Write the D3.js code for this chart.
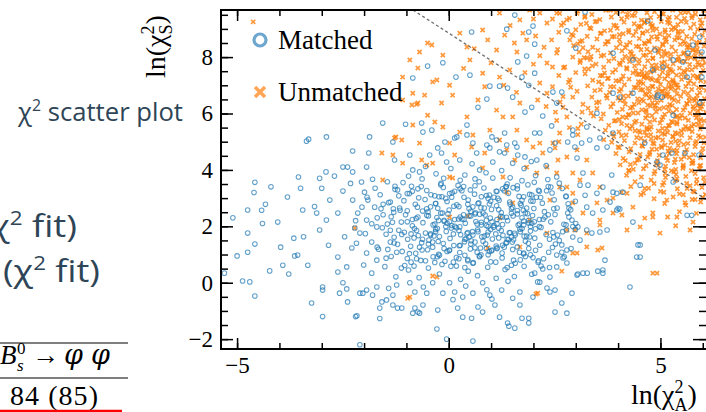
<!DOCTYPE html>
<html lang="en">
<head>
<meta charset="UTF-8">
<title>chi2 scatter plot</title>
<script src="https://d3js.org/d3.v7.min.js"></script>
<style>
  body { margin: 0; background: #fff; }
  svg { display: block; }
  .slide { font-family: "Open Sans", sans-serif; fill: #2e4557; }
  .serif { font-family: "Liberation Serif", "Times New Roman", serif; fill: #000; }
</style>
</head>
<body>
<div id="chart"></div>
<script>
// ---- data ----
const seriesNames = ["Matched", "Unmatched"];

// ln(chi2_A), ln(chi2_S) for matched candidates
const matched = [
  [-5.1,2.3],[-5.3,0.34],[-5.0,0.95],[-4.87,0.06],[-4.75,1.76],[-4.75,2.58],[-4.58,3.56],[-4.6,3.2],[-4.58,1.37],[-4.58,-0.47],
  [-4.4,2.1],[-4.42,2.57],[-4.33,2.78],[-4.2,3.4],[-4.23,0.42],[-4.04,2.15],[-3.97,1.26],[-3.92,0.62],[-3.78,0.31],[-3.81,3.04],
  [-3.66,1.58],[-3.57,0.98],[-3.55,3.75],[-3.5,3.35],[-3.45,2.58],[-3.43,1.63],[-3.36,5.02],[-3.24,-0.72],[-3.17,2.7],[-3.12,2.47],
  [-3.05,1.87],[-3.05,3.7],[-2.98,-0.15],[-2.89,5.17],[-4.7,0.03],[-4.75,1.08],[-3.64,0.95],[-3.33,0.62],[-2.98,-1.2],[-2.2,-1.2],
  [-2.1,-2.2],[-1.63,-1.27],
  [-2.81,2.93],[-2.7,3.78],[-2.62,2.47],[-2.5,3.25],[-2.5,4.1],[-2.39,4.1],[-2.27,4.67],[-2.27,3.93],[-2.27,2.93],[-2.15,2.47],
  [-2.1,1.76],[-2.06,3.57],[-2.22,1.94],[-2.29,1.23],[-2.41,0.56],[-2.62,0.91],[-2.5,0.0],[-2.58,-0.37],[-2.39,-0.68],[-2.98,-0.26],
  [-2.62,0.38],[-2.84,1.33],[-2.89,2.22],[-3.0,3.35],[-2.9,3.93],[-1.87,5.17],[-1.89,4.6],[-1.94,4.1],[-1.8,3.67],[-1.99,3.21],
  [-1.91,2.93],[-1.75,2.68],[-1.94,2.22],[-1.7,1.98],[-1.82,1.44],[-1.94,1.05],[-1.7,0.8],[-1.82,0.34],[-1.7,-0.15],[-2.03,-0.37],
  [-1.58,-0.68],[-2.17,-1.17],[-1.56,5.66],[-3.31,5.09],
  [-1.62,3.12],[-1.55,2.41],[-1.48,1.72],[-1.66,1.19],[-1.51,0.57],[-1.45,3.58],[-1.38,2.86],[-1.33,2.14],[-1.29,1.41],[-1.36,0.93],
  [-1.25,0.21],[-1.42,-0.2],[-1.6,2.62],[-1.74,3.35],[-1.21,3.29],[-1.15,2.57],[-1.18,1.86],[-1.23,1.08],[-1.12,0.52],[-2.05,2.68],
  [-2.32,3.52],[-2.46,1.63],[-2.01,0.63],[-2.18,1.4],[-1.57,1.95],[-1.44,1.18],[-1.69,2.3],[-1.3,2.5],[-1.97,1.74],[-2.2,2.2],
  [-2.41,-0.22],[-2.1,-0.37],[-1.94,-0.26],[-1.8,-0.44],[-1.63,-0.9],[-1.47,-0.61],[-1.32,-0.44],[-1.32,-0.79],[-1.21,-0.9],[-1.11,-0.9],
  [-1.23,-0.08],[-0.92,0.0],[-0.8,-0.33],[-0.8,-0.9],[-0.73,-1.04],[-0.69,-1.08],[-0.85,-1.08],[-0.61,-0.79],[-0.52,-0.37],[-0.38,0.0],
  [-0.26,-0.97],[-0.28,-1.64],[-0.05,-2.0],[-0.14,-0.37],[0.02,0.0],[0.14,-0.33],[0.21,-0.9],[0.33,-1.22],[0.33,-0.51],[0.54,-1.26],
  [0.57,-2.07],[0.57,-0.37],[0.69,-0.86],[0.8,-1.04],[0.8,0.0],[0.97,-0.44],[1.09,-0.79],[1.2,-1.22],[1.25,-0.26],[1.39,-1.43],
  [1.42,-1.54],[1.56,-1.61],[1.51,-0.55],[1.68,-0.33],[1.68,-0.79],[1.73,-1.26],[1.89,-1.26],[1.89,-1.43],[1.99,-0.51],[2.1,0.03],
  [2.39,-0.33],[2.51,-1.04],[2.67,-0.72],[2.79,-1.08],[2.91,-0.37],[3.03,0.27],[3.17,0.34],[3.27,0.34],[3.52,0.41],[3.64,0.34],
  [4.28,-0.15],[4.44,0.91],[2.55,0.98],[2.79,0.7],
  [-0.95,0.45],[-0.7,0.18],[-0.48,0.52],[-0.22,0.31],[0.05,0.58],[0.28,0.12],[0.46,0.41],[0.68,0.25],[0.92,0.55],[1.12,0.16],
  [1.33,0.47],[1.55,0.22],[1.78,0.58],[1.96,0.3],[2.22,0.49],[-0.6,-0.15],[0.1,-0.6],[0.9,-0.25],[1.4,0.05],[-0.33,0.72],
  [0.4,-0.12],[1.02,-0.58],
  [-1.32,4.99],[-1.28,4.35],[-0.92,4.53],[-0.85,4.0],[-0.69,3.93],[-0.61,5.34],[-0.4,5.41],[-0.45,4.53],[-0.26,4.78],[-0.17,4.6],
  [-0.05,4.28],[-0.64,5.66],[0.19,5.17],[0.43,5.24],[0.26,4.35],[0.66,4.6],[0.43,5.59],[0.9,4.88],[1.13,5.06],[1.32,5.31],
  [1.37,4.88],[1.56,4.95],[1.32,4.6],[1.04,4.28],[0.73,4.0],[1.51,4.24],[1.63,4.53],[-0.09,4.99],[0.14,5.13],[0.57,4.95],
  [1.02,5.17],[0.97,4.78],[1.2,4.64],[1.61,4.81],[1.8,4.46],[2.03,5.31],[2.08,4.35],[2.39,4.71],[2.51,4.95],[2.81,4.99],
  [2.93,5.24],[2.98,4.81],[3.03,4.42],[3.33,5.06],[3.5,4.78],[3.17,3.89],[3.1,3.46],[3.29,3.46],[3.5,3.17],[3.26,2.68],
  [3.4,2.47],[3.64,2.58],[3.81,2.86],[3.97,2.58],[3.88,3.21],[4.11,3.21],[4.04,2.61],[2.91,2.22],[3.05,1.98],[3.26,1.87],
  [3.38,1.76],[3.57,1.8],[3.74,1.87],[3.1,1.51],[2.93,1.62],[3.69,0.8],[3.64,0.45],[3.05,0.31],[4.52,1.34],[4.52,0.91],
  [2.67,1.34],[2.79,1.16],[2.7,0.88],[2.55,0.56],[2.39,0.2],[2.51,-0.26],[2.32,-0.19],[2.15,0.02],[2.03,0.34],
  [-0.95,3.78],[-0.55,4.12],[-0.3,3.86],[0.05,4.05],[0.38,3.82],[0.55,4.22],[0.88,3.9],[1.25,3.98],[1.45,3.72],[1.78,4.05],
  [2.05,3.8],[2.3,4.15],[2.55,3.75],[-0.12,3.7],[0.62,3.68],[1.95,4.3],
  [1.56,9.49],[0.54,8.89],[1.37,8.99],[1.99,9.1],[1.89,8.89],[2.03,8.46],[1.84,8.04],[1.63,7.83],[2.79,8.93],[3.22,9.6],
  [3.0,8.32],[-0.5,7.68],[-0.85,7.26],[-0.14,7.8],[0.17,7.29],[0.5,7.36],[0.9,6.51],[0.69,6.22],[0.97,6.97],[1.2,6.97],
  [1.39,6.9],[1.73,7.29],[2.03,7.43],[1.89,7.0],[1.51,6.58],[1.8,6.05],[1.96,6.22],[2.46,6.76],[2.67,6.76],[2.55,6.37],
  [2.22,5.91],[2.43,5.56],[2.15,5.31],[2.93,5.41],[3.26,5.52],[3.14,4.95],[3.57,5.13],[3.74,4.81],[3.88,5.31],[3.5,6.01],
  [3.88,6.72],[4.04,6.58],[4.35,6.72],[3.88,8.14],[4.35,7.9],[4.7,9.28],[4.82,7.54],[4.92,6.58],[5.04,6.58],[5.3,7.9],
  [5.65,8.14],[5.63,7.29],[5.77,8.43],[5.98,7.29],[4.63,4.95],[4.92,4.28],[4.99,4.17],[5.3,3.57],[5.06,4.53],[4.52,3.46],
  [4.0,2.64],[4.35,2.15],[4.47,1.34],[5.63,2.39],[5.74,2.39],[3.97,3.17],[3.64,3.39],[3.85,3.82],[3.22,3.1],[5.93,8.71],
  [5.98,8.18],[4.87,8.25],[5.06,7.65],[5.53,7.83],[5.93,6.37],[5.3,5.94],[4.94,6.65],[5.58,4.6],[5.91,4.53],[5.27,4.6],
  [-1.02,5.62],
  // dense core
  [-1.08,3.55],[-0.63,3.68],[-0.18,3.52],[0.27,3.63],[0.72,3.58],[1.04,3.71],[1.38,3.5],[1.73,3.62],[2.02,3.56],[2.34,3.66],[2.61,3.53],
  [-1.27,3.31],[-0.88,3.42],[-0.52,3.27],[-0.13,3.38],[0.22,3.45],[0.51,3.29],[0.83,3.36],[1.12,3.24],[1.36,3.41],[1.62,3.33],
  [1.87,3.47],[2.12,3.28],[2.41,3.39],[2.68,3.34],
  [-1.18,3.08],[-0.93,3.16],[-0.71,3.01],[-0.42,3.12],[-0.16,3.05],[0.08,3.19],[0.36,3.03],[0.61,3.14],[0.89,3.09],[1.16,2.99],
  [1.41,3.17],[1.66,3.06],[1.91,3.13],[2.17,3.02],[2.44,3.18],[2.77,3.07],
  [-1.42,2.84],[-1.06,2.91],[-0.79,2.78],[-0.56,2.95],[-0.31,2.81],[-0.04,2.88],[0.19,2.76],[0.46,2.93],[0.71,2.83],[0.96,2.79],
  [1.19,2.92],[1.44,2.86],[1.71,2.75],[1.94,2.9],[2.21,2.82],[2.49,2.94],[2.82,2.8],
  [-1.31,2.62],[-0.98,2.55],[-0.74,2.68],[-0.49,2.51],[-0.26,2.64],[0.01,2.58],[0.24,2.7],[0.52,2.53],[0.76,2.66],[1.01,2.6],
  [1.24,2.49],[1.51,2.67],[1.76,2.57],[2.01,2.63],[2.26,2.52],[2.56,2.65],[2.88,2.59],[0.12,2.71],[0.63,2.48],[1.13,2.73],[1.62,2.56],
  [-1.36,2.34],[-1.02,2.41],[-0.77,2.28],[-0.52,2.39],[-0.28,2.31],[-0.02,2.44],[0.23,2.26],[0.48,2.37],[0.73,2.43],[0.98,2.29],
  [1.23,2.35],[1.48,2.46],[1.73,2.3],[1.98,2.38],[2.23,2.25],[2.51,2.42],[2.84,2.33],[-0.15,2.47],[0.36,2.24],[0.86,2.4],[1.36,2.32],[1.86,2.45],
  [-1.45,2.08],[-1.12,2.15],[-0.86,2.02],[-0.61,2.13],[-0.37,2.05],[-0.11,2.18],[0.14,2.0],[0.39,2.11],[0.64,2.17],[0.89,2.03],
  [1.14,2.09],[1.39,2.2],[1.64,2.04],[1.89,2.12],[2.14,1.99],[2.41,2.16],[2.72,2.07],[3.0,2.1],[-0.24,2.21],[0.26,1.98],[0.77,2.14],[1.27,2.06],[1.77,2.19],
  [-1.38,1.86],[-1.05,1.79],[-0.81,1.92],[-0.55,1.76],[-0.31,1.89],[-0.06,1.82],[0.18,1.95],[0.43,1.74],[0.68,1.88],[0.93,1.8],
  [1.18,1.93],[1.43,1.77],[1.68,1.9],[1.93,1.83],[2.18,1.96],[2.46,1.78],[2.78,1.87],[-0.43,1.73],[0.06,1.94],[0.56,1.81],[1.06,1.97],[1.56,1.75],[2.05,1.91],
  [-1.29,1.61],[-0.97,1.54],[-0.72,1.67],[-0.47,1.51],[-0.22,1.64],[0.03,1.57],[0.28,1.7],[0.53,1.49],[0.78,1.63],[1.03,1.55],
  [1.28,1.68],[1.53,1.52],[1.78,1.65],[2.03,1.58],[2.3,1.71],[2.61,1.5],[-0.35,1.66],[0.41,1.56],[0.91,1.69],[1.41,1.53],[1.91,1.62],
  [-1.21,1.36],[-0.9,1.29],[-0.64,1.42],[-0.38,1.26],[-0.13,1.39],[0.12,1.32],[0.37,1.45],[0.62,1.24],[0.87,1.38],[1.12,1.3],
  [1.37,1.43],[1.62,1.27],[1.88,1.4],[2.15,1.33],[2.45,1.25],[-0.25,1.46],[0.75,1.23],[1.5,1.44],[0.25,1.31],
  [-1.1,1.11],[-0.78,1.04],[-0.5,1.17],[-0.24,1.01],[0.01,1.14],[0.26,1.07],[0.51,1.2],[0.76,0.99],[1.01,1.13],[1.26,1.05],
  [1.51,1.18],[1.77,1.02],[2.05,1.15],[2.36,1.08],[0.38,0.97],[1.14,1.21],[-0.63,1.16],
  [-0.98,0.86],[-0.66,0.79],[-0.37,0.92],[-0.09,0.76],[0.18,0.89],[0.45,0.82],[0.72,0.95],[0.99,0.74],[1.26,0.88],[1.53,0.8],
  [1.81,0.93],[2.12,0.78],[0.58,0.71],[-0.22,0.97],
  [-0.69,1.26],[-0.16,0.65],[-0.93,1.03],[-0.38,1.44],[-0.55,0.78],[-0.04,1.11],[-0.82,0.59],[-0.27,0.92],[-0.48,1.37],[-0.76,0.85],[-0.11,1.21],[-0.89,0.73],
  [-0.04,2.11],[-0.82,1.59],[-0.27,1.92],[-0.48,2.37],[-0.76,1.85],[-0.11,2.21],[-0.89,1.73],[-0.33,2.08],[-0.62,1.54],[-0.19,2.47],
  [-0.98,2.16],[-0.43,1.69],[-0.07,1.99],[-0.73,2.33],[-0.31,1.81],[-0.86,2.24],
  [-0.33,3.08],[-0.62,2.54],[-0.19,3.47],[-0.98,3.16],[-0.43,2.69],[-0.07,2.99],[-0.73,3.33],[-0.31,2.81],[-0.86,3.24],[-0.52,2.62],[-0.23,3.05],[-0.65,3.41],
  [0.62,1.44],[0.45,0.78],[0.96,1.11],[0.18,0.59],[0.73,0.92],[0.52,1.37],[0.24,0.85],[0.89,1.21],[0.11,0.73],[0.67,1.08],
  [0.38,0.54],[0.81,1.47],[0.02,1.16],[0.57,0.69],[0.93,0.99],[0.27,1.33],
  [0.52,2.37],[0.24,1.85],[0.89,2.21],[0.11,1.73],[0.67,2.08],[0.38,1.54],[0.81,2.47],[0.02,2.16],[0.57,1.69],[0.93,1.99],
  [0.27,2.33],[0.69,1.81],[0.14,2.24],[0.48,1.62],[0.77,2.05],[0.35,2.41],[0.99,1.89],[0.31,2.26],[0.84,1.65],[0.07,2.03],[0.62,2.44],[0.45,1.78],
  [0.02,3.16],[0.57,2.69],[0.93,2.99],[0.27,3.33],[0.69,2.81],[0.14,3.24],[0.48,2.62],[0.77,3.05],[0.35,3.41],[0.99,2.89],
  [0.31,3.26],[0.84,2.65],[0.07,3.03],[0.62,3.44],[0.45,2.78],[0.96,3.11],
  [1.89,1.21],[1.11,0.73],[1.67,1.08],[1.38,0.54],[1.81,1.47],[1.02,1.16],[1.57,0.69],[1.93,0.99],[1.27,1.33],[1.69,0.81],
  [1.14,1.24],[1.48,0.62],[1.77,1.05],[1.35,1.41],[1.99,0.89],[1.31,1.26],
  [1.84,1.65],[1.07,2.03],[1.62,2.44],[1.45,1.78],[1.96,2.11],[1.18,1.59],[1.73,1.92],[1.52,2.37],[1.24,1.85],[1.89,2.21],
  [1.11,1.73],[1.67,2.08],[1.38,1.54],[1.81,2.47],[1.02,2.16],[1.57,1.69],[1.93,1.99],[1.27,2.33],[1.69,1.81],[1.14,2.24],[1.48,1.62],[1.77,2.05],
  [1.27,3.33],[1.69,2.81],[1.14,3.24],[1.48,2.62],[1.77,3.05],[1.35,3.41],[1.99,2.89],[1.31,3.26],[1.84,2.65],[1.07,3.03],
  [1.62,3.44],[1.45,2.78],[1.96,3.11],[1.18,2.59],[1.73,2.92],[1.52,3.37],
  [2.18,0.59],[2.73,0.92],[2.52,1.37],[2.24,0.85],[2.89,1.21],[2.11,0.73],[2.67,1.08],[2.38,0.54],
  [2.38,1.54],[2.81,2.47],[2.02,2.16],[2.57,1.69],[2.93,1.99],[2.27,2.33],[2.69,1.81],[2.14,2.24],[2.48,1.62],[2.77,2.05],[2.35,2.41],[2.99,1.89],
  [2.14,3.24],[2.48,2.62],[2.77,3.05],[2.35,3.41],[2.99,2.89],[2.31,3.26],[2.84,2.65],[2.07,3.03],
  [-1.69,1.26],[-1.16,2.65],[-1.93,3.03],[-1.38,1.44],[-1.55,2.78],[-1.04,0.61],[-1.82,2.09],[-1.27,3.42],[-1.48,0.87],[-1.11,1.71]
];

// ln(chi2_A), ln(chi2_S) for unmatched candidates
const unmatched = [
  [2.62,9.55],[3.05,9.63],[3.38,9.51],[3.71,9.66],[3.95,9.58],[4.22,9.52],[4.41,9.64],[4.68,9.57],[4.86,9.61],[5.07,9.53],[5.29,9.67],[5.48,9.56],[5.66,9.6],[5.83,9.52],[6.02,9.65],
  [2.85,9.38],[3.22,9.45],[3.57,9.33],[3.84,9.42],[4.08,9.36],[4.33,9.47],[4.55,9.31],[4.77,9.4],[4.97,9.44],[5.18,9.34],[5.38,9.41],[5.57,9.37],[5.75,9.46],[5.94,9.32],[6.08,9.43],
  [2.71,9.21],[3.12,9.16],[3.46,9.25],[3.9,9.13],[4.14,9.24],[4.38,9.18],[4.62,9.22],[4.81,9.12],[5.02,9.26],[5.22,9.19],[5.41,9.15],[5.61,9.23],[5.79,9.17],[5.98,9.2],[4.5,9.1],
  [3.0,8.97],[3.33,9.04],[3.68,8.93],[3.98,9.02],[4.25,8.95],[4.47,9.06],[4.69,8.92],[4.91,9.0],[5.11,8.96],[5.31,9.05],[5.52,8.91],[5.71,9.03],[5.88,8.98],[6.05,8.94],[4.8,9.07],
  [2.9,8.8],[3.27,8.74],[3.6,8.85],[3.86,8.72],[4.12,8.83],[4.36,8.77],[4.58,8.86],[4.79,8.71],[4.99,8.82],[5.2,8.76],[5.42,8.84],[5.62,8.73],[5.81,8.81],[5.99,8.78],[5.1,8.69],[4.25,8.88],
  [3.15,8.58],[3.5,8.64],[3.77,8.55],[4.03,8.62],[4.28,8.52],[4.5,8.66],[4.72,8.57],[4.93,8.63],[5.14,8.54],[5.34,8.61],[5.55,8.56],[5.74,8.65],[5.92,8.53],[6.09,8.6],[4.62,8.5],[5.45,8.68],
  [2.95,8.41],[3.4,8.35],[3.7,8.46],[3.96,8.33],[4.2,8.44],[4.43,8.38],[4.64,8.47],[4.86,8.32],[5.06,8.43],[5.27,8.36],[5.47,8.45],[5.67,8.34],[5.86,8.42],[6.03,8.39],[4.98,8.3],[5.58,8.48],
  [3.08,8.18],[3.52,8.24],[3.82,8.15],[4.09,8.22],[4.32,8.13],[4.54,8.26],[4.76,8.17],[4.95,8.23],[5.16,8.14],[5.36,8.21],[5.56,8.16],[5.76,8.25],[5.95,8.12],[4.68,8.28],[5.25,8.1],[5.85,8.2],
  [3.2,7.98],[3.6,8.04],[3.9,7.95],[4.16,8.02],[4.39,7.93],[4.6,8.06],[4.82,7.97],[5.03,8.03],[5.23,7.94],[5.43,8.01],[5.63,7.96],[5.82,8.05],[6.0,7.92],[4.5,7.9],[5.12,8.08],[5.72,7.99],[3.35,7.91],
  [3.1,7.81],[3.48,7.75],[3.78,7.86],[4.05,7.73],[4.27,7.84],[4.49,7.77],[4.7,7.87],[4.9,7.72],[5.1,7.83],[5.3,7.76],[5.5,7.85],[5.69,7.74],[5.88,7.82],[6.06,7.79],[4.8,7.7],[5.4,7.88],[5.98,7.71],
  [3.3,7.58],[3.66,7.64],[3.94,7.55],[4.2,7.62],[4.42,7.52],[4.63,7.66],[4.84,7.57],[5.05,7.63],[5.25,7.54],[5.45,7.61],[5.64,7.56],[5.83,7.65],[6.01,7.53],[4.56,7.5],[5.16,7.68],[5.55,7.51],[4.93,7.59],
  [3.22,7.41],[3.58,7.35],[3.87,7.46],[4.12,7.33],[4.35,7.44],[4.56,7.38],[4.77,7.47],[4.98,7.32],[5.18,7.43],[5.38,7.36],[5.58,7.45],[5.77,7.34],[5.96,7.42],[4.66,7.3],[5.29,7.48],[5.87,7.31],[4.45,7.39],
  [3.4,7.18],[3.75,7.24],[4.02,7.15],[4.26,7.22],[4.48,7.13],[4.69,7.26],[4.9,7.17],[5.1,7.23],[5.3,7.14],[5.5,7.21],[5.7,7.16],[5.89,7.25],[6.07,7.12],[4.6,7.28],[5.2,7.1],[5.6,7.29],[4.8,7.2],
  [3.28,6.98],[3.62,7.04],[3.9,6.95],[4.15,7.02],[4.38,6.93],[4.59,7.06],[4.8,6.97],[5.0,7.03],[5.2,6.94],[5.4,7.01],[5.6,6.96],[5.79,7.05],[5.97,6.92],[4.7,6.9],[5.32,7.08],[5.9,6.91],[4.48,7.0],
  [3.45,6.81],[3.8,6.75],[4.07,6.86],[4.31,6.73],[4.53,6.84],[4.74,6.77],[4.95,6.87],[5.15,6.72],[5.35,6.83],[5.55,6.76],[5.74,6.85],[5.93,6.74],[6.08,6.82],[4.64,6.7],[5.25,6.88],[5.65,6.71],[5.05,6.79],
  [3.38,6.58],[3.72,6.64],[4.0,6.55],[4.24,6.62],[4.46,6.52],[4.67,6.66],[4.88,6.57],[5.08,6.63],[5.28,6.54],[5.48,6.61],[5.68,6.56],[5.87,6.65],[6.04,6.53],[4.56,6.5],[5.18,6.68],[5.78,6.51],[4.78,6.6],
  [3.55,6.41],[3.88,6.35],[4.14,6.46],[4.38,6.33],[4.6,6.44],[4.81,6.38],[5.02,6.47],[5.22,6.32],[5.42,6.43],[5.62,6.36],[5.81,6.45],[6.0,6.34],[4.7,6.3],[5.32,6.48],[5.9,6.31],[4.92,6.39],
  [3.5,6.18],[3.83,6.24],[4.1,6.15],[4.34,6.22],[4.56,6.13],[4.77,6.26],[4.98,6.17],[5.18,6.23],[5.38,6.14],[5.58,6.21],[5.78,6.16],[5.97,6.25],[4.66,6.12],[5.28,6.28],[5.88,6.1],[4.88,6.2],
  [3.65,5.98],[3.98,6.04],[4.24,5.95],[4.47,6.02],[4.69,5.93],[4.9,6.06],[5.1,5.97],[5.3,6.03],[5.5,5.94],[5.7,6.01],[5.9,5.96],[6.07,6.05],[4.8,5.92],[5.4,5.9],[5.2,6.08],
  [3.6,5.81],[3.94,5.75],[4.2,5.86],[4.43,5.73],[4.65,5.84],[4.86,5.77],[5.06,5.87],[5.26,5.72],[5.46,5.83],[5.66,5.76],[5.85,5.85],[6.03,5.74],[4.75,5.7],[5.36,5.88],[5.95,5.79],
  [3.78,5.58],[4.08,5.64],[4.33,5.55],[4.56,5.62],[4.78,5.52],[4.99,5.66],[5.19,5.57],[5.39,5.63],[5.59,5.54],[5.79,5.61],[5.98,5.56],[4.68,5.5],[5.29,5.68],[5.89,5.6],
  [3.7,5.41],[4.02,5.35],[4.28,5.46],[4.52,5.33],[4.74,5.44],[4.95,5.38],[5.15,5.47],[5.35,5.32],[5.55,5.43],[5.75,5.36],[5.94,5.45],[5.05,5.3],[5.65,5.48],[4.4,5.39],
  [3.9,5.18],[4.19,5.24],[4.44,5.15],[4.67,5.22],[4.89,5.13],[5.1,5.26],[5.3,5.17],[5.5,5.23],[5.7,5.14],[5.9,5.21],[6.06,5.16],[4.78,5.1],[5.4,5.28],
  [3.85,4.98],[4.15,5.04],[4.4,4.95],[4.63,5.02],[4.85,4.93],[5.05,5.06],[5.25,4.97],[5.45,5.03],[5.65,4.94],[5.85,5.01],[6.03,4.96],[5.55,4.9],
  [4.0,4.81],[4.3,4.75],[4.56,4.86],[4.8,4.73],[5.02,4.84],[5.22,4.77],[5.42,4.87],[5.62,4.72],[5.82,4.83],[6.0,4.76],[5.32,4.7],
  [3.95,4.58],[4.26,4.64],[4.52,4.55],[4.75,4.62],[4.97,4.52],[5.18,4.66],[5.38,4.57],[5.58,4.63],[5.78,4.54],[5.97,4.61],
  [4.12,4.41],[4.45,4.35],[4.7,4.46],[4.93,4.33],[5.14,4.44],[5.35,4.38],[5.56,4.47],[5.76,4.32],[5.95,4.43],
  [4.05,4.18],[4.4,4.24],[4.66,4.15],[4.9,4.22],[5.12,4.13],[5.33,4.26],[5.54,4.17],[5.74,4.23],[5.93,4.14],
  [4.25,3.98],[4.6,4.04],[4.87,3.95],[5.1,4.02],[5.32,3.93],[5.53,4.06],[5.73,3.97],[5.92,4.03],
  [4.2,3.81],[4.55,3.75],[4.85,3.86],[5.12,3.73],[5.37,3.84],[5.6,3.77],[5.82,3.87],[6.02,3.72],
  [4.4,3.58],[4.78,3.64],[5.08,3.55],[5.35,3.62],[5.62,3.52],[5.86,3.66],[6.05,3.57],
  [4.3,3.41],[4.72,3.35],[5.05,3.46],[5.4,3.33],[5.7,3.44],[5.98,3.38],
  [4.6,3.18],[5.0,3.24],[5.45,3.15],[5.8,3.22],[6.06,3.13],
  [4.85,2.98],[5.3,3.04],[5.75,2.95],[6.0,3.02],[5.1,2.81],[5.6,2.75],[5.95,2.86],[5.45,2.52],[5.85,2.46],
  // more of the dense cloud, less regular
  [3.13,5.62],[3.87,5.28],[3.42,5.91],[3.66,5.07],[3.05,5.47],[3.91,5.73],
  [3.29,6.19],[3.74,6.55],[3.58,6.84],[3.17,6.33],[3.36,6.02],[3.82,6.95],[3.49,6.38],[3.03,6.79],
  [3.95,7.16],[3.21,7.58],[3.68,7.44],[3.39,7.69],[3.77,7.25],[3.11,7.88],[3.54,7.12],[3.26,7.97],[3.63,7.34],
  [3.66,8.07],[3.05,8.47],[3.91,8.73],[3.29,8.19],[3.74,8.55],[3.58,8.84],[3.17,8.33],[3.36,8.02],[3.82,8.95],
  [3.36,9.01],[3.82,9.66],[3.49,9.27],[3.03,9.55],[3.95,9.11],[3.21,9.41],
  [4.54,3.12],[4.26,3.97],[4.63,3.34],[4.08,3.21],[4.85,3.52],
  [4.91,4.73],[4.29,4.19],[4.74,4.55],[4.58,4.84],[4.17,4.33],[4.36,4.02],[4.82,4.95],[4.49,4.38],[4.03,4.79],[4.95,4.16],
  [4.49,5.38],[4.03,5.79],[4.95,5.16],[4.21,5.58],[4.68,5.44],[4.39,5.69],[4.77,5.25],[4.11,5.88],[4.54,5.12],[4.26,5.97],[4.63,5.34],[4.08,5.21],
  [4.13,6.62],[4.87,6.28],[4.42,6.91],[4.66,6.07],[4.05,6.47],[4.91,6.73],[4.29,6.19],[4.74,6.55],[4.58,6.84],[4.17,6.33],[4.36,6.02],[4.82,6.95],[4.49,6.38],[4.03,6.79],
  [4.82,7.95],[4.49,7.38],[4.03,7.79],[4.95,7.16],[4.21,7.58],[4.68,7.44],[4.39,7.69],[4.77,7.25],[4.11,7.88],[4.54,7.12],[4.26,7.97],[4.63,7.34],[4.08,7.21],[4.85,7.52],
  [4.42,8.91],[4.66,8.07],[4.05,8.47],[4.91,8.73],[4.29,8.19],[4.74,8.55],[4.58,8.84],[4.17,8.33],[4.36,8.02],[4.82,8.95],[4.49,8.38],[4.03,8.79],[4.95,8.16],
  [4.21,9.41],[4.68,9.31],[4.39,9.48],[4.77,9.18],[4.11,9.62],[4.54,9.08],[4.26,9.68],[4.63,9.24],
  [5.58,2.84],[5.17,2.33],[5.36,2.02],[5.82,2.95],
  [5.39,3.69],[5.77,3.25],[5.11,3.88],[5.54,3.12],[5.26,3.97],[5.63,3.34],[5.08,3.21],[5.85,3.52],
  [5.17,4.33],[5.36,4.02],[5.82,4.95],[5.49,4.38],[5.03,4.79],[5.95,4.16],[5.21,4.58],[5.68,4.44],[5.39,4.69],[5.77,4.25],[5.11,4.88],[5.54,4.12],
  [5.05,5.47],[5.91,5.73],[5.29,5.19],[5.74,5.55],[5.58,5.84],[5.17,5.33],[5.36,5.02],[5.82,5.95],[5.49,5.38],[5.03,5.79],[5.95,5.16],[5.21,5.58],[5.68,5.44],[5.39,5.69],
  [5.03,6.79],[5.95,6.16],[5.21,6.58],[5.68,6.44],[5.39,6.69],[5.77,6.25],[5.11,6.88],[5.54,6.12],[5.26,6.97],[5.63,6.34],[5.08,6.21],[5.85,6.52],[5.13,6.62],[5.87,6.28],[5.42,6.91],
  [5.87,7.28],[5.42,7.91],[5.66,7.07],[5.05,7.47],[5.91,7.73],[5.29,7.19],[5.74,7.55],[5.58,7.84],[5.17,7.33],[5.36,7.02],[5.82,7.95],[5.49,7.38],[5.03,7.79],[5.95,7.16],[5.21,7.58],
  [5.68,8.44],[5.39,8.69],[5.77,8.25],[5.11,8.88],[5.54,8.12],[5.26,8.97],[5.63,8.34],[5.08,8.21],[5.85,8.52],[5.13,8.62],[5.87,8.28],[5.42,8.91],[5.66,8.07],[5.05,8.47],
  [5.74,9.39],[5.58,9.59],[5.17,9.23],[5.36,9.01],[5.82,9.67],[5.49,9.27],[5.03,9.55],[5.95,9.11],[5.21,9.41],
  [2.63,6.41],[2.88,6.93],[2.71,7.62],[2.57,8.27],[2.94,8.76],[2.66,9.13],[2.83,7.11],[2.52,6.05],
  // sparse tail towards low chi2_A
  [-0.4,8.43],[-0.14,8.07],[-0.73,7.61],[-1.09,7.29],[-0.38,7.12],[0.02,7.0],[0.09,6.65],[-0.17,6.37],[-0.5,5.94],[-0.85,5.59],
  [-0.14,5.52],[0.26,5.34],[0.43,5.88],[0.69,6.48],[0.8,7.43],[0.5,7.9],[1.13,8.25],[1.2,7.29],[1.44,7.54],[1.61,8.18],
  [1.84,8.61],[1.68,9.32],[2.15,9.56],[2.32,9.21],[2.43,8.61],[2.55,8.14],[2.32,7.79],[2.15,7.08],[2.32,6.72],[2.1,6.48],
  [1.68,6.37],[1.51,5.88],[1.28,5.88],[1.13,6.12],[0.97,5.41],[1.2,5.06],[1.61,5.41],[1.84,5.06],[1.99,4.81],[2.22,4.6],
  [2.46,4.95],[2.62,5.31],[2.79,5.88],[2.7,6.22],[2.93,6.58],[2.86,7.19],[2.74,7.65],[2.93,8.0],[2.86,8.61],[2.79,9.32],
  [2.55,9.56],[1.91,9.67],[1.2,9.56],[0.8,8.96],[0.26,8.85],[0.43,8.36],[0.92,8.61],[1.32,8.78],[-0.69,8.18],[-0.92,7.9],
  [-0.57,6.65],[-0.87,6.3],[-1.09,6.48],[-0.33,5.7],[-0.69,4.95],[0.02,4.95],[0.54,4.81],[0.85,4.6],[1.37,4.71],[1.56,4.35],
  [1.84,4.1],[2.08,3.89],[2.32,4.1],[2.55,3.89],[2.79,4.46],[3.03,4.71],[3.26,4.35],[3.4,3.89],[3.57,3.39],[3.1,3.64],
  [2.93,3.17],[2.62,3.39],[2.39,2.93],[3.74,2.93],[4.21,3.17],[3.88,2.47],[4.35,2.68],[4.52,1.98],[4.82,2.47],[5.15,2.93],
  [5.39,2.33],[4.99,1.76],[3.57,2.22],[3.26,1.76],[-4.62,9.25],[-0.73,6.37],[-1.25,5.17],[-0.5,8.5],[-0.28,7.19],[-0.85,6.72],
  [-0.76,6.33],
  [1.45,9.12],[1.75,8.85],[2.05,8.75],[2.25,8.35],[2.6,8.88],[2.45,9.35],[2.0,9.35],[1.55,8.5],[2.15,8.05],[2.45,7.65],
  [2.6,7.35],[2.0,7.75],[1.8,7.45],[2.45,6.95],[2.7,6.6],[2.3,6.25],[2.55,5.75],[2.85,5.5],[2.6,5.0],[3.05,5.25],
  [3.15,6.05],[3.0,7.45],[3.1,8.55],[3.25,9.2],[1.0,7.8],[0.6,8.3],[1.3,7.0],[0.35,7.6],[0.85,6.95],[1.6,6.75],
  // scattered inside the matched cloud
  [0.14,4.53],[0.57,5.24],[0.8,4.07],[1.37,3.21],[1.51,2.83],[1.2,2.29],[1.91,2.22],[2.32,1.76],[2.1,-0.37],[1.68,1.27],
  [2.15,4.95],[2.51,4.78],[2.58,4.35],[2.93,3.89],[2.79,3.39],[2.93,2.83],[3.17,2.47],[3.5,2.83],[3.88,3.0],[4.09,2.4],
  [4.21,1.87],[4.63,2.29],[4.82,2.33],[2.98,1.87],[2.79,1.87],[3.57,2.05],[3.03,1.05],[3.26,1.27],[3.62,1.23],[4.92,0.34],
  [0.09,3.71],[0.45,2.36],[0.02,2.33],[1.28,3.75],[0.92,1.23],[-1.28,5.13],[-1.11,5.06],[-1.58,4.6],[-1.32,4.53],[-1.09,4.24],
  [-0.64,4.35],[-0.52,4.17],[-0.38,4.24],[-2.22,1.94],[-1.56,3.64],[-0.92,-0.51],[-0.28,0.2],[0.02,3.75],[2.93,1.05],[2.67,0.41],
  [2.06,-0.4],[-0.97,-0.55],[-0.38,0.24],[4.82,0.34],[3.52,1.16],[5.7,1.87],[5.77,2.15]
];

// selection cut drawn as a dashed line: ln(chi2_S) = slope * ln(chi2_A) + intercept
const cutLine = { slope: -0.97, intercept: 8.85 };

const xDomain = [-5.38, 6.1];
const yDomain = [-2.35, 9.67];
const xMajorTicks = [-5, 0, 5];
const xMinorTicks = [-5, -4, -3, -2, -1, 0, 1, 2, 3, 4, 5, 6];
const yMajorTicks = [-2, 0, 2, 4, 6, 8];
const yMinorTicks = [-2, -1.5, -1, -0.5, 0, 0.5, 1, 1.5, 2, 2.5, 3, 3.5, 4, 4.5, 5, 5.5, 6, 6.5, 7, 7.5, 8, 8.5, 9, 9.5];

// ---- layout ----
const W = 706, H = 412;
const plot = { left: 221, top: 10, right: 707, bottom: 349 };

const svg = d3.select("#chart")
  .append("svg")
  .attr("width", W)
  .attr("height", H);

const x = d3.scaleLinear().domain(xDomain).range([plot.left, plot.right]);
const y = d3.scaleLinear().domain(yDomain).range([plot.bottom, plot.top]);

svg.append("defs").append("clipPath").attr("id", "clip")
  .append("rect")
  .attr("x", plot.left).attr("y", plot.top)
  .attr("width", plot.right - plot.left).attr("height", plot.bottom - plot.top);

// ---- slide text on the left ----
function chiLine(px, py, size, before, after, len) {
  const t = svg.append("text")
    .attr("class", "slide")
    .attr("x", px).attr("y", py)
    .attr("font-size", size)
    .attr("textLength", len)
    .attr("lengthAdjust", "spacingAndGlyphs");
  t.append("tspan").text(before + "χ");
  t.append("tspan").attr("dy", -size * 0.4).attr("font-size", size * 0.62).text("2");
  t.append("tspan").attr("dy", size * 0.4).text(after);
}
chiLine(18, 121, 26, "", " scatter plot", 165);
chiLine(-10, 237, 31, "", " fit)", 87);
chiLine(3, 282, 31, "(", " fit)", 97);

// little table fragment
svg.append("line").attr("x1", 0).attr("x2", 128).attr("y1", 343).attr("y2", 343)
  .attr("stroke", "#555").attr("stroke-width", 1.3);
svg.append("line").attr("x1", 0).attr("x2", 128).attr("y1", 378).attr("y2", 378)
  .attr("stroke", "#555").attr("stroke-width", 1.3);
svg.append("text").attr("class", "serif").attr("x", 0).attr("y", 364)
  .attr("font-size", 27).attr("font-style", "italic").text("B");
svg.append("text").attr("class", "serif").attr("x", 17).attr("y", 354)
  .attr("font-size", 17).text("0");
svg.append("text").attr("class", "serif").attr("x", 17).attr("y", 371)
  .attr("font-size", 17).attr("font-style", "italic").text("s");
svg.append("text").attr("class", "serif").attr("x", 32).attr("y", 364)
  .attr("font-size", 27).attr("textLength", 27).attr("lengthAdjust", "spacingAndGlyphs").text("→");
svg.append("text").attr("x", 64).attr("y", 364)
  .style("font-family", "'DejaVu Serif', serif").attr("fill", "#000")
  .attr("font-size", 27).attr("font-style", "italic")
  .attr("textLength", 46).attr("lengthAdjust", "spacing").text("φφ");
svg.append("text").attr("class", "serif").attr("x", 10).attr("y", 405)
  .attr("font-size", 28).attr("textLength", 88).attr("lengthAdjust", "spacing").text("84 (85)");
svg.append("line").attr("x1", 0).attr("x2", 122).attr("y1", 411).attr("y2", 411)
  .attr("stroke", "#ff0000").attr("stroke-width", 2.5);

// ---- scatter points ----
const pts = svg.append("g").attr("clip-path", "url(#clip)");

const crossPath = "M-2.1,-2.1L2.1,2.1M-2.1,2.1L2.1,-2.1";
pts.selectAll(".unmatched")
  .data(unmatched)
  .join("path")
  .attr("class", "unmatched")
  .attr("d", crossPath)
  .attr("transform", d => `translate(${x(d[0])},${y(d[1])})`)
  .attr("fill", "none")
  .attr("stroke", "#ff7f0e")
  .attr("stroke-opacity", 0.8)
  .attr("stroke-width", 1.7);

pts.selectAll(".matched")
  .data(matched)
  .join("circle")
  .attr("class", "matched")
  .attr("cx", d => x(d[0]))
  .attr("cy", d => y(d[1]))
  .attr("r", 2.3)
  .attr("fill", "none")
  .attr("stroke", "#1f77b4")
  .attr("stroke-opacity", 0.7)
  .attr("stroke-width", 1.05);

// dashed cut line
const xTop = (yDomain[1] - cutLine.intercept) / cutLine.slope;
pts.append("line")
  .attr("x1", x(xTop)).attr("y1", y(yDomain[1]))
  .attr("x2", x(xDomain[1])).attr("y2", y(cutLine.slope * xDomain[1] + cutLine.intercept))
  .attr("stroke", "#555")
  .attr("stroke-opacity", 0.85)
  .attr("stroke-width", 1.3)
  .attr("stroke-dasharray", "3,2.5");

// ---- axes: ticks on all four sides, pointing inwards ----
function styleAxis(g) {
  g.select(".domain").remove();
  g.selectAll(".tick line").attr("stroke", "#000").attr("stroke-width", 1.5);
  g.selectAll(".tick text")
    .attr("fill", "#000")
    .style("font-family", "'Liberation Serif', 'Times New Roman', serif")
    .style("font-size", "23px");
}

svg.append("g").attr("transform", `translate(0,${plot.bottom})`)
  .call(d3.axisBottom(x).tickValues(xMinorTicks).tickSize(-6).tickFormat("")).call(styleAxis);
svg.append("g").attr("transform", `translate(0,${plot.bottom})`)
  .call(d3.axisBottom(x).tickValues(xMajorTicks).tickSize(-11).tickPadding(8)).call(styleAxis);
svg.append("g").attr("transform", `translate(0,${plot.top})`)
  .call(d3.axisTop(x).tickValues(xMinorTicks).tickSize(-6).tickFormat("")).call(styleAxis);
svg.append("g").attr("transform", `translate(0,${plot.top})`)
  .call(d3.axisTop(x).tickValues(xMajorTicks).tickSize(-11).tickFormat("")).call(styleAxis);

svg.append("g").attr("transform", `translate(${plot.left},0)`)
  .call(d3.axisLeft(y).tickValues(yMinorTicks).tickSize(-7).tickFormat("")).call(styleAxis);
svg.append("g").attr("transform", `translate(${plot.left},0)`)
  .call(d3.axisLeft(y).tickValues(yMajorTicks).tickSize(-12).tickPadding(8)).call(styleAxis);
svg.append("g").attr("transform", `translate(${plot.right},0)`)
  .call(d3.axisRight(y).tickValues(yMinorTicks).tickSize(-8).tickFormat("")).call(styleAxis);
svg.append("g").attr("transform", `translate(${plot.right},0)`)
  .call(d3.axisRight(y).tickValues(yMajorTicks).tickSize(-14).tickFormat("")).call(styleAxis);

svg.append("rect")
  .attr("x", plot.left).attr("y", plot.top)
  .attr("width", plot.right - plot.left).attr("height", plot.bottom - plot.top)
  .attr("fill", "none").attr("stroke", "#000").attr("stroke-width", 2);

// ---- axis titles ----
function lnChi(g, sub) {
  const t = g.append("text").attr("class", "serif").attr("font-size", 28);
  t.append("tspan").text("ln(χ");
  t.append("tspan").attr("dy", -11).attr("font-size", 18).text("2");
  t.append("tspan").attr("dx", -9).attr("dy", 18).attr("font-size", 18).text(sub);
  t.append("tspan").attr("dy", -7).text(")");
}
lnChi(svg.append("g").attr("transform", "translate(631,404)"), "A");
lnChi(svg.append("g").attr("transform", "translate(165,78) rotate(-90)"), "S");

// ---- legend ----
const legend = svg.append("g");
legend.append("circle")
  .attr("cx", 260).attr("cy", 40).attr("r", 6)
  .attr("fill", "none").attr("stroke", "#1f77b4").attr("stroke-opacity", 0.65).attr("stroke-width", 3.2);
legend.append("path")
  .attr("d", "M-5,-5L5,5M-5,5L5,-5")
  .attr("transform", "translate(260,92)")
  .attr("stroke", "#ff7f0e").attr("stroke-opacity", 0.7).attr("stroke-width", 3.5);
legend.selectAll(".lab")
  .data(seriesNames)
  .join("text")
  .attr("class", "serif lab")
  .attr("x", 278)
  .attr("y", (d, i) => 49 + i * 52)
  .attr("font-size", 27)
  .text(d => d);
</script>
</body>
</html>
